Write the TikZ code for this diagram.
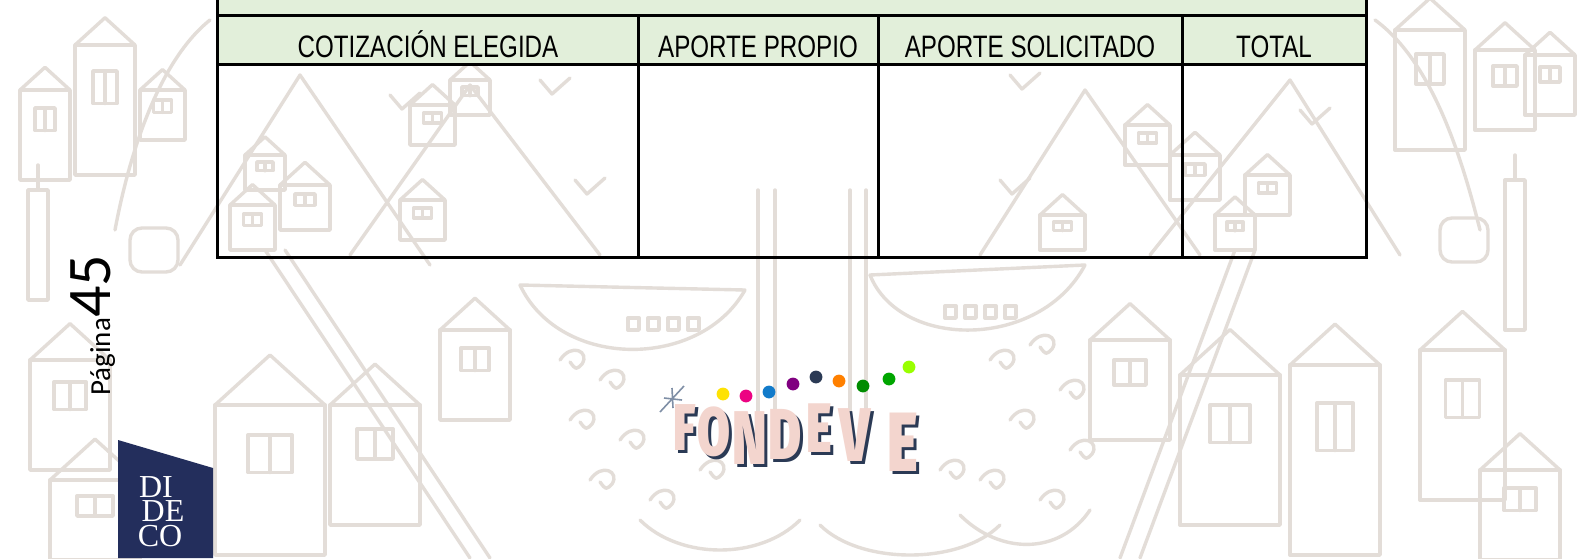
\documentclass[tikz,border=0pt]{standalone}
\usepackage{fontspec}
\setmainfont[FakeStretch=0.78]{Liberation Sans}
\newfontfamily\pagefont{Carlito}
\IfFontExistsTF{Fira Sans Black}
  {\newfontfamily\logofont[FakeStretch=0.7]{Fira Sans Black}}
  {\newfontfamily\logofont[FakeStretch=0.64]{Liberation Sans Bold}}
\newfontfamily\didecofont{Liberation Serif}

\definecolor{headgreen}{HTML}{E2EFDA}
\definecolor{sketch}{HTML}{E3DDD8}
\definecolor{navy}{HTML}{232E5C}
\definecolor{logopink}{HTML}{F3D5CE}
\definecolor{logoshadow}{HTML}{2B3A55}
\definecolor{starblue}{HTML}{7F8FA6}

% little house of the background sketch: x, y (bottom left), width, height
\newcommand\casa[4]{%
\draw[sketchline] (#1,#2) rectangle ++(#3,-#4);
\draw[sketchline] (#1,#2-#4) -- ++(#3/2,-#3/2.2) -- (#1+#3,#2-#4);
\draw[sketchline] (#1+#3*0.3,#2-#4*0.55) rectangle ++(#3*0.4,-#4*0.25);
\draw[sketchline] (#1+#3*0.5,#2-#4*0.55) -- ++(0,-#4*0.25);
}

\begin{document}
\begin{tikzpicture}[x=0.5pt,y=-0.5pt]
\tikzset{
  sketchline/.style={sketch, line width=1.7pt, line cap=round, line join=round},
  grid/.style={black, line width=1.5pt},
  headtext/.style={anchor=base, inner sep=0pt, font=\fontsize{15.5}{18}\selectfont},
  logoletter/.style={anchor=base, inner sep=0pt, font=\logofont},
}
\useasboundingbox (0,0) rectangle (1584,558);
\fill[white] (0,0) rectangle (1584,558);

% background sketch
\draw[sketchline] (180,265) -- (300,75) -- (430,265);
\draw[sketchline] (350,255) -- (470,85) -- (600,255);
\draw[sketchline] (980,255) -- (1085,90) -- (1200,255);
\draw[sketchline] (1150,255) -- (1290,80) -- (1400,255);
\draw[sketchline] (1375,20) .. controls (1430,60) and (1460,150) .. (1480,230);
\draw[sketchline] (210,20) .. controls (160,60) and (130,150) .. (115,230);
\foreach \x/\y in {390/95, 540/80, 575/180, 1010/75, 1000/180, 1300/110}
  \draw[sketchline] (\x,\y) -- ++(12,14) -- ++(18,-16);
\casa{20}{180}{50}{90}
\casa{75}{175}{60}{130}
\casa{140}{140}{45}{50}
\casa{230}{250}{45}{45}
\casa{280}{230}{50}{45}
\casa{245}{190}{40}{35}
\casa{410}{145}{45}{40}
\casa{450}{115}{40}{35}
\casa{400}{240}{45}{40}
\casa{1125}{165}{45}{40}
\casa{1170}{200}{50}{45}
\casa{1245}{215}{45}{40}
\casa{1215}{250}{40}{35}
\casa{1040}{250}{45}{35}
\casa{1395}{150}{70}{120}
\casa{1475}{130}{60}{80}
\casa{1525}{115}{50}{60}
\casa{215}{555}{110}{150}
\casa{330}{525}{90}{120}
\casa{440}{420}{70}{90}
\casa{30}{470}{80}{110}
\casa{50}{560}{90}{80}
\casa{1090}{440}{80}{100}
\casa{1180}{525}{100}{150}
\casa{1290}{555}{90}{190}
\casa{1420}{500}{85}{150}
\casa{1480}{560}{80}{90}
% towers and buses
\draw[sketchline] (28,300) rectangle (48,190) (38,190) -- (38,165);
\draw[sketchline] (1505,330) rectangle (1525,180) (1515,180) -- (1515,155);
\draw[sketchline, rounded corners=6pt] (130,272) rectangle (178,228);
\draw[sketchline, rounded corners=6pt] (1440,262) rectangle (1488,218);
% ladders
\draw[sketchline] (265,250) -- (470,558) (285,250) -- (490,558);
\draw[sketchline] (1235,250) -- (1120,558) (1255,250) -- (1140,558);
% boats and masts
\draw[sketchline] (520,285) .. controls (560,370) and (700,370) .. (745,290) -- cycle;
\draw[sketchline] (870,275) .. controls (900,350) and (1040,350) .. (1085,265) -- cycle;
\foreach \x in {628,648,668,688}
  \draw[sketchline] (\x,330) rectangle ++(11,-12);
\foreach \x in {945,965,985,1005}
  \draw[sketchline] (\x,318) rectangle ++(11,-12);
\foreach \x in {758,775,850,866}
  \draw[sketchline] (\x,190) -- (\x,430);
\draw[sketchline] (640,520) .. controls (680,560) and (760,560) .. (800,520);
\draw[sketchline] (820,525) .. controls (860,565) and (960,565) .. (1000,525);
\draw[sketchline] (960,515) .. controls (1000,555) and (1060,555) .. (1090,510);
% waves
\foreach \x/\y in {560/360, 600/380, 570/420, 620/440, 590/480, 650/500, 700/470,
                   990/360, 1030/345, 1060/390, 1010/420, 1070/450, 980/480, 1040/500, 940/470}
  \draw[sketchline] (\x,\y) .. controls (\x+12,\y-18) and (\x+30,\y-8) .. (\x+22,\y+4)
                    .. controls (\x+16,\y+10) .. (\x+10,\y+2);

% table
\fill[headgreen] (217,-8) rectangle (1366,64);
\draw[grid] (217,-8) -- (217,257) -- (1366,257) -- (1366,-8);
\draw[grid] (217,15.5) -- (1366,15.5);
\draw[grid] (217,64) -- (1366,64);
\foreach \x in {638,878,1182}
  \draw[grid] (\x,15.5) -- (\x,257);
\node[headtext] (cotiz) at (428,57) {COTIZACIÓN ELEGIDA};
\node[headtext] (propio) at (758,57) {APORTE PROPIO};
\node[headtext] (solic) at (1030,57) {APORTE SOLICITADO};
\node[headtext] (total) at (1274,57) {TOTAL};

% page number
\node[rotate=90, anchor=base west, inner sep=0pt] (pagina) at (110,396)
  {\pagefont\fontsize{14.5}{16}\selectfont Página\fontsize{31}{34}\selectfont 45};

% DIDECO logo
\fill[navy] (118,440) -- (213,468) -- (213,558) -- (118,558) -- cycle;
\node[anchor=base, inner sep=0pt, text=white, font=\didecofont\fontsize{16}{16}\selectfont] (di) at (156,497) {DI};
\node[anchor=base, inner sep=0pt, text=white, font=\didecofont\fontsize{16}{16}\selectfont] (de) at (163,521) {DE};
\node[anchor=base, inner sep=0pt, text=white, font=\didecofont\fontsize{16}{16}\selectfont] (co) at (160,546) {CO};

% FONDEVE logo
\foreach \x/\y/\c in {723/394/yellow!85!orange, 746/396/magenta!90!red, 769/392/cyan!60!blue,
                      793/384/violet, 816/377/logoshadow, 839/381/orange, 863/386/green!55!black,
                      889/379/green!65!black, 909/367/lime!80!green}
  \fill[\c] (\x,\y) circle (3.2pt);
\foreach \ch/\x/\y/\s [count=\i] in {F/685/450/33, O/714/455/34, N/750/464/38, D/785/459/36,
                                    E/819/452/35, V/855/461/38, E/903/471/42}{
  \node[logoletter, text=logoshadow] (sombra\i) at (\x+3,\y+3) {\fontsize{\s}{\s}\selectfont\ch};
  \node[logoletter, text=logopink] (letra\i) at (\x,\y) {\fontsize{\s}{\s}\selectfont\ch};
}
\draw[starblue, line width=0.8pt] (660,412) -- (684,386) (664,398) -- (682,400) (672,388) -- (673,408);
\end{tikzpicture}
\end{document}
